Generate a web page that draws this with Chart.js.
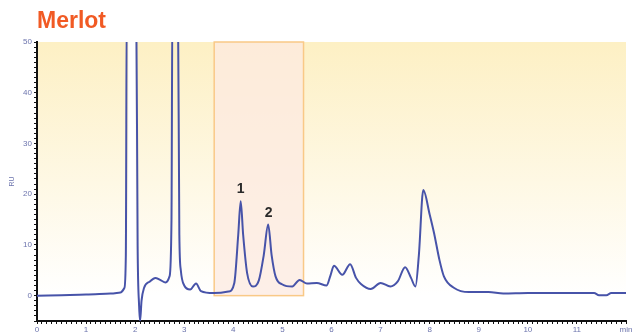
<!DOCTYPE html>
<html>
<head>
<meta charset="utf-8">
<script src="https://cdn.jsdelivr.net/npm/chart.js@4"></script>
<style>
  html, body { margin: 0; padding: 0; background: #fff; }
  #wrap { width: 639px; height: 334px; }
</style>
</head>
<body>
<div id="wrap"><canvas id="myChart" width="639" height="334"></canvas></div>
<script>
'use strict'

// retention time (min) and detector response (RU)
let retentionTime = [0.0, 0.5, 1.0, 1.5, 1.7, 1.78, 1.81, 1.83, 2.02, 2.05, 2.08, 2.10, 2.13, 2.18,
  2.3, 2.41, 2.51, 2.62, 2.70, 2.74, 2.76, 2.87, 2.90, 2.93, 3.0, 3.12, 3.24, 3.34, 3.6, 3.9,
  4.02, 4.10, 4.15, 4.20, 4.28, 4.40, 4.52, 4.62, 4.71, 4.78, 4.86, 5.0, 5.2, 5.35, 5.5, 5.7,
  5.9, 5.98, 6.05, 6.22, 6.38, 6.5, 6.6, 6.8, 7.0, 7.2, 7.35, 7.50, 7.62, 7.71, 7.78, 7.87,
  8.0, 8.09, 8.2, 8.29, 8.5, 8.8, 9.2, 9.5, 10.0, 10.5, 11.0, 11.35, 11.45, 11.6, 11.7, 12.0]
let signal = [0.0, 0.1, 0.2, 0.4, 0.6, 1.5, 8, 60, 60, 10, -2, -5, -1, 1.5,
  2.8, 3.5, 3.1, 2.6, 3.8, 15, 60, 60, 12, 5, 2.0, 1.2, 2.4, 0.9, 0.5, 0.8,
  2.5, 12, 18.6, 12, 4.5, 1.8, 3.0, 8, 14.0, 8, 3.8, 2.2, 1.8, 3.1, 2.4, 2.5,
  2.0, 4, 5.9, 4.1, 6.2, 3.5, 2.3, 1.3, 2.5, 1.8, 2.8, 5.6, 3.5, 1.8, 8, 20.8,
  16, 12.3, 7, 3.8, 1.5, 0.7, 0.7, 0.4, 0.5, 0.5, 0.5, 0.5, 0.1, 0.1, 0.5, 0.5]

let peakNames = ['1', '2']
let peakTimes = [4.15, 4.72]
let peakHeights = [18.6, 14.0]

let yTicks = [0, 10, 20, 30, 40, 50]
let windowStart = 3.61
let windowEnd = 5.43

let points = retentionTime.map((t, i) => ({ x: t, y: signal[i] }))

let decorations = {
  id: 'decorations',
  beforeDraw(chart) {
    let ctx = chart.ctx
    let area = chart.chartArea
    let xs = chart.scales.x
    let ys = chart.scales.y
    let zeroY = ys.getPixelForValue(0)
    ctx.save()
    let grad = ctx.createLinearGradient(0, area.top, 0, zeroY)
    grad.addColorStop(0, '#fdf0c4')
    grad.addColorStop(0.55, '#fef8e4')
    grad.addColorStop(1, '#ffffff')
    ctx.fillStyle = grad
    ctx.fillRect(area.left, area.top, area.right - area.left, area.bottom - area.top)

    // white gap inside the solvent peak
    let g1 = xs.getPixelForValue(1.86)
    let g2 = xs.getPixelForValue(2.01)
    ctx.fillStyle = '#ffffff'
    ctx.fillRect(g1, area.top, g2 - g1, zeroY - area.top)

    // highlighted window
    let b1 = xs.getPixelForValue(windowStart)
    let b2 = xs.getPixelForValue(windowEnd)
    let bTop = ys.getPixelForValue(50)
    let bBot = ys.getPixelForValue(0)
    ctx.fillStyle = 'rgba(252, 233, 224, 0.75)'
    ctx.fillRect(b1, bTop, b2 - b1, bBot - bTop)
    ctx.strokeStyle = '#f9c987'
    ctx.lineWidth = 1.5
    ctx.strokeRect(b1, bTop, b2 - b1, bBot - bTop)
    ctx.restore()
  },
  afterDraw(chart) {
    let ctx = chart.ctx
    let xs = chart.scales.x
    let ys = chart.scales.y
    ctx.save()
    ctx.fillStyle = '#f15a24'
    ctx.font = 'bold 23px "Liberation Sans", Arial, sans-serif'
    ctx.textBaseline = 'alphabetic'
    ctx.fillText('Merlot', 37, 28)

    ctx.fillStyle = '#2a2a2a'
    ctx.font = 'bold 14px "Liberation Sans", Arial, sans-serif'
    ctx.textAlign = 'center'
    for (let i = 0; i < peakNames.length; i++) {
      ctx.fillText(peakNames[i], xs.getPixelForValue(peakTimes[i]), ys.getPixelForValue(peakHeights[i]) - 8)
    }
    ctx.restore()
  }
}

let ctx = document.getElementById('myChart').getContext('2d')
let myChart = new Chart(ctx, {
  type: 'line',
  data: {
    datasets: [{
      label: 'Merlot',
      data: points,
      borderColor: '#4753a9',
      borderWidth: 2,
      pointRadius: 0,
      cubicInterpolationMode: 'monotone',
      fill: false
    }]
  },
  options: {
    responsive: false,
    animation: false,
    layout: { padding: { left: 8, right: 13, top: 42, bottom: 0 } },
    plugins: {
      legend: { display: false },
      tooltip: { enabled: false }
    },
    scales: {
      x: {
        type: 'linear',
        min: 0,
        max: 12,
        afterFit(scale) { scale.height = 13 },
        border: { color: '#111', width: 2 },
        grid: { drawOnChartArea: false, tickLength: 3, color: '#111', lineWidth: 1 },
        ticks: {
          stepSize: 0.1,
          autoSkip: false,
          maxRotation: 0,
          padding: 1,
          color: '#6c74ad',
          font: { size: 8 },
          callback(v) {
            let r = Math.round(v)
            if (Math.abs(v - r) > 1e-6) return ''
            return r === 12 ? 'min' : String(r)
          }
        }
      },
      y: {
        min: -5,
        max: 50,
        afterFit(scale) { scale.width = 29 },
        border: { color: '#111', width: 2 },
        grid: { drawOnChartArea: false, tickLength: 3, color: '#111', lineWidth: 1 },
        title: { display: true, text: 'RU', color: '#6c74ad', font: { size: 7 }, padding: 0 },
        ticks: {
          stepSize: 1,
          autoSkip: false,
          padding: 2,
          color: '#6c74ad',
          font: { size: 8 },
          callback(v) {
            return yTicks.includes(v) ? String(v) : ''
          }
        }
      }
    }
  },
  plugins: [decorations]
})
</script>
</body>
</html>
